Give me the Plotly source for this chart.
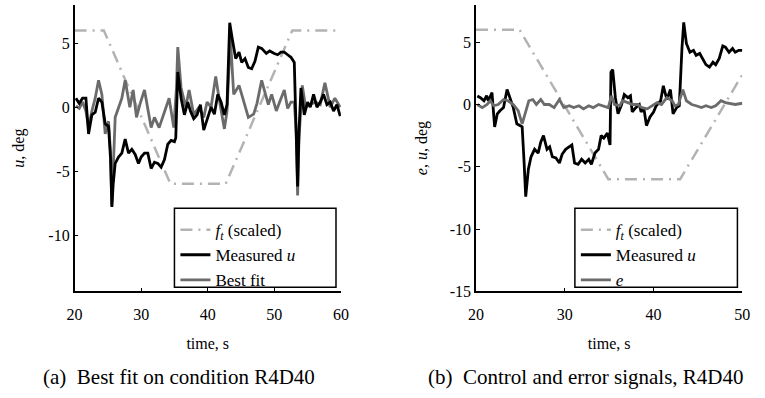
import plotly.graph_objects as go

# ---------------- data: panel (a) ----------------
ft_a_t = [20.0, 24.4, 34.4, 42.7, 52.7, 60.0]
ft_a_v = [6.0, 6.0, -6.0, -6.0, 6.0, 6.0]

u_a_t = [20.2, 20.7, 21.2, 21.7, 22.1, 22.6, 23.1, 23.6, 24.1, 24.6, 25.1, 25.4, 25.6, 25.8, 26.1,
         26.6, 27.1, 27.6, 28.1, 28.6, 29.1, 29.6, 30.0, 30.5, 31.0, 31.5, 32.0, 32.5, 33.0,
         33.5, 34.0, 34.5, 35.0, 35.2, 35.5, 36.0, 36.5, 37.0, 37.4, 37.9, 38.4, 38.9, 39.4,
         39.9, 40.5, 41.0, 41.5, 42.0, 42.5, 42.9, 43.3, 43.7, 44.2, 44.7, 45.1, 45.6, 46.1,
         46.6, 47.1, 47.6, 48.1, 48.8, 49.3, 50.0, 50.5, 51.0, 51.5, 52.0, 52.5, 53.0, 53.2,
         53.5, 53.7, 54.0, 54.5, 55.0, 55.4, 55.9, 56.4, 56.9, 57.4, 57.9, 58.4, 58.9, 59.4, 59.9]
u_a_v = [0.7, 0.3, 0.7, 0.7, -2.1, -0.6, -0.4, 0.7, 0.4, -1.3, -1.5, -4.0, -7.8, -6.0, -4.4,
         -3.9, -3.6, -2.5, -3.6, -3.3, -3.7, -4.4, -3.9, -3.6, -3.6, -4.8, -4.3, -4.4, -4.7,
         -4.1, -2.9, -2.6, -2.7, -2.4, 2.75, 0.7, -0.6, 0.4, -0.3, -0.9, -0.6, 0.2, -1.8,
         -0.9, 0.0, -0.55, 1.0, 0.4, -0.6, 0.2, 6.6, 5.3, 3.8, 4.3, 3.5, 3.8, 3.1,
         3.0, 3.6, 4.7, 4.6, 4.2, 4.4, 4.2, 4.1, 4.3, 4.3, 4.1, 3.9, 3.5, -0.8,
         -6.2, -2.0, 1.5, -0.6, 0.4, 0.0, 1.0, 0.0, 0.4, 1.0, 0.2, 0.4, -0.3, 0.2, -0.7]

fit_a_t = [20.2, 20.7, 21.2, 21.7, 22.1, 22.6, 23.1, 23.6, 24.1, 24.6, 25.1, 25.4, 25.6, 25.8,
           26.1, 26.6, 27.1, 27.6, 28.3, 28.8, 29.3, 29.8, 30.5, 31.5, 32.0, 32.7, 33.2, 34.2,
           34.9, 35.3, 35.5, 36.0, 36.7, 37.2, 37.9, 38.7, 39.4, 39.9, 40.5, 41.2, 41.7, 42.2,
           42.5, 42.9, 43.4, 43.9, 44.7, 45.1, 45.6, 46.1, 46.9, 47.4, 48.1, 48.6, 49.1, 49.6,
           50.3, 50.8, 51.5, 52.0, 52.5, 53.0, 53.3, 53.5, 53.7, 54.2, 54.7, 55.4, 56.2, 56.9,
           57.6, 58.4, 59.1, 59.9]
fit_a_v = [0.1, -0.1, 0.4, -0.3, -1.6, -0.3, 0.7, 2.1, 1.0, -2.1, -1.1, -3.5, -7.7, -4.5,
           -0.8, -0.05, 0.7, 2.1, 0.0, 1.35, -0.8, 0.2, 1.35, -1.6, -0.8, -1.6, -0.8, 0.7,
           -1.6, 1.5, 4.7, 1.5, 0.0, 1.35, -0.6, 0.0, -0.8, 0.4, 0.0, 2.4, 0.7, -0.8,
           -1.7, -0.3, 5.5, 1.0, 1.7, 1.0, 0.0, -0.8, -0.55, 0.3, 2.1, 1.2, 0.2, 1.0,
           -0.3, 0.4, 1.35, -0.1, 0.4, 0.4, -2.0, -6.9, -2.5, 1.7, 0.0, 0.2, 0.4, 0.2,
           1.9, 0.0, 0.7, 0.0]

# ---------------- data: panel (b) ----------------
ft_b_t = [20.0, 24.9, 34.9, 43.0, 50.0]
ft_b_v = [6.0, 6.0, -6.0, -6.0, 2.4]

u_b_t = [20.15, 20.5, 20.9, 21.2, 21.4, 21.8, 22.1, 22.4, 22.7, 23.1, 23.5, 23.8, 24.2, 24.6,
         24.9, 25.2, 25.4, 25.6, 25.9, 26.2, 26.6, 27.0, 27.3, 27.6, 28.0, 28.3, 28.6, 29.0,
         29.4, 29.7, 30.1, 30.5, 30.8, 31.1, 31.5, 31.9, 32.3, 32.7, 33.0, 33.4, 33.8, 34.1,
         34.4, 34.8, 35.1, 35.2, 35.4, 35.7, 36.0, 36.4, 36.7, 37.1, 37.4, 37.6, 38.0, 38.4,
         38.6, 38.9, 39.2, 39.6, 40.0, 40.3, 40.8, 41.1, 41.5, 41.9, 42.2, 42.6, 42.9, 43.2,
         43.4, 43.7, 44.1, 44.5, 44.8, 45.2, 45.6, 45.9, 46.3, 46.7, 47.0, 47.4, 47.8, 48.1,
         48.5, 48.9, 49.2, 49.6, 50.0]
u_b_v = [0.68, 0.55, 0.3, 0.7, 0.3, 0.95, -1.8, -0.75, -0.5, -0.25, 1.2, 0.55, -0.25, -1.55,
         -1.7, -1.8, -4.4, -7.4, -5.2, -4.2, -3.6, -3.9, -3.0, -2.5, -3.6, -3.4, -4.2, -4.3,
         -4.7, -4.0, -3.6, -3.4, -3.25, -4.7, -4.8, -4.4, -4.7, -4.4, -4.8, -3.9, -3.6, -2.5,
         -2.7, -2.3, -3.25, 2.6, 2.8, 0.55, -0.75, 0.0, 0.8, 0.55, 0.7, -0.6, -0.25, 0.0,
         -0.6, -0.25, -1.7, -1.0, -0.6, -0.1, 0.3, 1.5, 0.4, 1.2, -0.75, -0.25, -0.1, 4.5,
         6.6, 4.9, 4.2, 4.35, 3.95, 4.1, 3.6, 3.2, 3.0, 3.4, 3.2, 3.7, 4.7, 4.6,
         4.2, 4.5, 4.2, 4.35, 4.35]

e_b_t = [20.15, 20.7, 21.25, 21.6, 22.0, 22.5, 23.1, 23.6, 24.2, 24.75, 25.2, 25.6, 25.95, 26.4,
         26.8, 27.3, 27.7, 28.25, 28.8, 29.4, 29.9, 30.5, 31.0, 31.6, 32.1, 32.7, 33.2, 33.8,
         34.3, 34.9, 35.25, 35.6, 36.2, 36.5, 37.1, 37.6, 38.2, 38.7, 39.3, 39.8, 40.4, 40.9,
         41.5, 42.1, 42.4, 42.8, 43.3, 43.7, 44.3, 44.8, 45.4, 45.9, 46.5, 47.0, 47.6, 48.1,
         48.7, 49.2, 50.0]
e_b_v = [0.0, -0.25, 0.0, 0.3, -0.1, 0.0, 0.4, 0.3, 0.0, -0.5, -1.55, -0.5, 0.3, 0.4,
         0.0, 0.4, 0.0, 0.0, -0.25, 0.4, -0.25, -0.1, -0.25, -0.1, -0.35, -0.1, -0.25, 0.0,
         -0.1, -0.25, 0.7, 0.0, -0.1, 0.3, 0.15, 0.0, 0.0, -0.25, -0.35, -0.1, 0.15, 0.0,
         0.55, 0.3, -0.1, 0.0, 1.2, 0.3, 0.0, -0.1, -0.25, -0.1, -0.25, -0.1, 0.3, 0.15,
         0.1, 0.0, 0.1]

xt_a = [20, 30, 40, 50, 60]
xt_b = [20, 30, 40, 50]
yt_a = [-10, -5, 0, 5]
yt_b = [-15, -10, -5, 0, 5]

# ---------------- styles ----------------
FONT = "Liberation Serif"
C_FT = "#b3b3b3"
C_U = "#000000"
C_FIT = "#6b6b6b"
DASH = "12px,6px,2px,6px"
W = 765
H = 398

fig = go.Figure()

fig.add_trace(go.Scatter(x=ft_a_t, y=ft_a_v, mode="lines", name="<i>f</i><sub><i>t</i></sub> (scaled)",
                         line=dict(color=C_FT, width=2.5, dash=DASH), xaxis="x", yaxis="y", legend="legend"))
fig.add_trace(go.Scatter(x=fit_a_t, y=fit_a_v, mode="lines", name="Best fit", showlegend=False,
                         line=dict(color=C_FIT, width=2.8), xaxis="x", yaxis="y", legend="legend"))
fig.add_trace(go.Scatter(x=u_a_t, y=u_a_v, mode="lines", name="Measured <i>u</i>",
                         line=dict(color=C_U, width=2.8), xaxis="x", yaxis="y", legend="legend"))
fig.add_trace(go.Scatter(x=[None], y=[None], mode="lines", name="Best fit",
                         line=dict(color=C_FIT, width=2.8), xaxis="x", yaxis="y", legend="legend"))

fig.add_trace(go.Scatter(x=ft_b_t, y=ft_b_v, mode="lines", name="<i>f</i><sub><i>t</i></sub> (scaled)",
                         line=dict(color=C_FT, width=2.5, dash=DASH), xaxis="x2", yaxis="y2", legend="legend2"))
fig.add_trace(go.Scatter(x=u_b_t, y=u_b_v, mode="lines", name="Measured <i>u</i>",
                         line=dict(color=C_U, width=2.8), xaxis="x2", yaxis="y2", legend="legend2"))
fig.add_trace(go.Scatter(x=e_b_t, y=e_b_v, mode="lines", name="<i>e</i>",
                         line=dict(color=C_FIT, width=2.8), xaxis="x2", yaxis="y2", legend="legend2"))

ydom = [(H - 298) / H, (H - 5) / H]
axis_common = dict(showline=True, linecolor="black", linewidth=1.5, ticks="inside", ticklen=4,
                   tickcolor="black", showgrid=False, zeroline=False, mirror=False,
                   tickfont=dict(family=FONT, size=16, color="black"))

def ttxt(vals):
    return [str(v) for v in vals]

def px(xp):
    return xp / W

def py(yp):
    return (H - yp) / H

legend_common = dict(xanchor="left", yanchor="top", borderwidth=0, bgcolor="rgba(0,0,0,0)",
                     font=dict(family=FONT, size=17, color="black"), itemwidth=30,
                     tracegroupgap=0)

fig.update_layout(
    width=W, height=H, margin=dict(l=0, r=0, t=0, b=0),
    paper_bgcolor="white", plot_bgcolor="white",
    font=dict(family=FONT, size=16, color="black"),
    xaxis=dict(domain=[px(68), px(340)], range=[20, 60], tickvals=xt_a, ticktext=ttxt(xt_a),
               anchor="y", ticklabelstandoff=8,
               title=dict(text="time, s", font=dict(family=FONT, size=16), standoff=16),
               **axis_common),
    yaxis=dict(domain=ydom, range=[-14.4, 8], tickvals=yt_a, ticktext=ttxt(yt_a), anchor="x",
               title=dict(text="<i>u</i>, deg", font=dict(family=FONT, size=16), standoff=20),
               **axis_common),
    xaxis2=dict(domain=[px(478), px(750)], range=[20, 50], tickvals=xt_b, ticktext=ttxt(xt_b),
                anchor="y2", ticklabelstandoff=8,
                title=dict(text="time, s", font=dict(family=FONT, size=16), standoff=16),
                **axis_common),
    yaxis2=dict(domain=ydom, range=[-15, 8], tickvals=yt_b, ticktext=ttxt(yt_b), anchor="x2",
                title=dict(text="<i>e</i>, <i>u</i>, deg", font=dict(family=FONT, size=16), standoff=18),
                **axis_common),
    legend=dict(x=px(171), y=py(217), **legend_common),
    legend2=dict(x=px(580), y=py(217), **legend_common),
    shapes=[
        dict(type="rect", xref="paper", yref="paper", x0=px(170), x1=px(335), y0=py(294), y1=py(213),
             line=dict(color="black", width=1.5), fillcolor="white", layer="above"),
        dict(type="rect", xref="paper", yref="paper", x0=px(579), x1=px(745), y0=py(294), y1=py(213),
             line=dict(color="black", width=1.5), fillcolor="white", layer="above"),
    ],
    annotations=[
        dict(text="(a)  Best fit on condition R4D40", x=px(175), y=py(386), xref="paper", yref="paper",
             showarrow=False, xanchor="center", yanchor="middle", font=dict(family=FONT, size=21)),
        dict(text="(b)  Control and error signals, R4D40", x=px(590), y=py(386), xref="paper", yref="paper",
             showarrow=False, xanchor="center", yanchor="middle", font=dict(family=FONT, size=21)),
    ],
)

fig.write_html("out.html")
